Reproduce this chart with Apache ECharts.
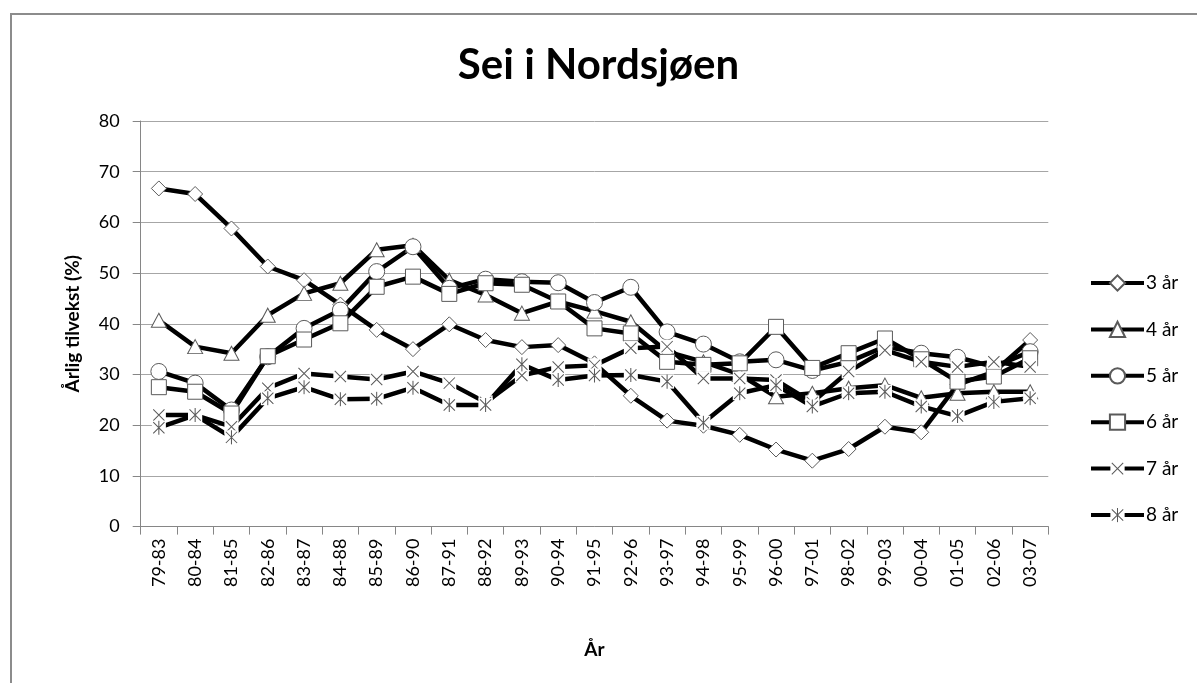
<!DOCTYPE html>
<html>
<head>
<meta charset="utf-8">
<script src="https://cdn.jsdelivr.net/npm/echarts@6/dist/echarts.min.js"></script>
<style>
html,body{margin:0;padding:0;background:#fff;overflow:hidden;}
#frame{position:absolute;left:10px;top:13px;width:1300px;height:800px;border:2px solid #8c8c8c;box-sizing:border-box;}
#chart{position:absolute;left:0;top:0;width:1197px;height:683px;}
</style>
</head>
<body>
<div id="frame"></div>
<div id="chart"></div>
<script>
var categories = ['79-83','80-84','81-85','82-86','83-87','84-88','85-89','86-90','87-91','88-92','89-93','90-94','91-95','92-96','93-97','94-98','95-99','96-00','97-01','98-02','99-03','00-04','01-05','02-06','03-07'];
var seriesNames = ['3 år','4 år','5 år','6 år','7 år','8 år'];
var s3 = [66.7, 65.6, 58.8, 51.3, 48.6, 43.8, 38.8, 35.0, 39.9, 36.8, 35.4, 35.8, 32.2, 25.8, 20.9, 19.9, 18.1, 15.2, 13.0, 15.3, 19.7, 18.6, 28.0, 30.5, 36.8];
var s4 = [40.7, 35.5, 34.2, 41.7, 46.0, 48.0, 54.6, 55.5, 48.6, 45.7, 42.1, 44.4, 42.5, 40.4, 34.5, 32.5, 30.0, 25.6, 26.3, 27.3, 27.9, 25.4, 26.3, 26.6, 26.6];
var s5 = [30.6, 28.3, 23.0, 33.5, 39.1, 42.7, 50.3, 55.2, 47.0, 48.8, 48.3, 48.1, 44.2, 47.2, 38.4, 36.0, 32.5, 32.9, 30.8, 32.5, 35.5, 34.2, 33.4, 31.5, 34.5];
var s6 = [27.5, 26.6, 22.3, 33.6, 36.9, 40.1, 47.3, 49.3, 45.9, 48.0, 47.7, 44.4, 39.1, 38.1, 32.5, 31.9, 32.2, 39.4, 31.3, 34.2, 37.1, 33.0, 28.6, 29.6, 33.2];
var s7 = [22.0, 22.0, 19.7, 27.3, 30.2, 29.6, 29.0, 30.6, 28.3, 24.5, 29.8, 31.5, 31.8, 35.2, 35.5, 29.2, 29.2, 28.9, 24.5, 30.6, 34.8, 32.5, 31.5, 32.5, 31.5];
var s8 = [19.5, 22.0, 17.6, 25.3, 27.5, 25.1, 25.2, 27.4, 24.0, 24.0, 32.0, 28.9, 29.8, 29.9, 28.6, 20.5, 26.3, 27.9, 23.7, 26.3, 26.6, 23.7, 21.8, 24.6, 25.3];
var yTicks = [0, 10, 20, 30, 40, 50, 60, 70, 80];

var markerStroke = '#5a5a5a';
function svgSym(inner){
  var svg = "<svg xmlns='http://www.w3.org/2000/svg' width='32' height='32' viewBox='0 0 16 16'><rect x='0.5' y='0.5' width='15' height='15' fill='#ffffff'/>" + inner + "</svg>";
  return 'image://data:image/svg+xml;charset=utf-8,' + encodeURIComponent(svg);
}
var xSym = svgSym("<path d='M2 2L14 14M14 2L2 14' stroke='" + markerStroke + "' stroke-width='1.1' fill='none'/>");
var aSym = svgSym("<path d='M2 2L14 14M14 2L2 14M8 0.5L8 15.5' stroke='" + markerStroke + "' stroke-width='1.1' fill='none'/>");

var allData = [s3, s4, s5, s6, s7, s8];
var symbols = ['diamond','triangle','circle','rect', xSym, aSym];
var sizes = [[15,15],[15,14],[16,16],[15,15],[15,15],[15,15]];

var series = allData.map(function(d, i){
  return {
    name: seriesNames[i],
    type: 'line',
    data: d,
    symbol: symbols[i],
    symbolSize: sizes[i],
    showAllSymbol: true,
    lineStyle: {color: '#000', width: 4.5},
    itemStyle: {color: '#fff', borderColor: markerStroke, borderWidth: 1},
    emphasis: {disabled: true},
    animation: false
  };
});

var chart = echarts.init(document.getElementById('chart'), null, {renderer: 'canvas'});
chart.setOption({
  backgroundColor: 'transparent',
  animation: false,
  title: {
    text: 'Sei i Nordsjøen',
    left: 'center',
    top: 39,
    textStyle: {fontFamily: 'Lato', fontWeight: 'bold', fontSize: 42, color: '#000'}
  },
  grid: {left: 140.7, right: 148.7, top: 121, bottom: 156.4, containLabel: false},
  legend: {
    orient: 'vertical',
    left: 1084,
    top: 268.5,
    itemWidth: 53,
    itemHeight: 19,
    itemGap: 27.4,
    lineStyle: {color: '#000', width: 4},
    textStyle: {fontFamily: 'Lato', fontSize: 19, color: '#000', padding: [0,0,0,-3]},
    data: seriesNames
  },
  xAxis: {
    type: 'category',
    data: categories,
    boundaryGap: true,
    name: 'År',
    nameLocation: 'middle',
    nameGap: 114,
    nameTextStyle: {fontFamily: 'Lato', fontWeight: 'bold', fontSize: 19, color: '#000'},
    axisLine: {lineStyle: {color: '#868686', width: 1}},
    axisTick: {show: true, length: 8, alignWithLabel: false, lineStyle: {color: '#868686'}},
    axisLabel: {rotate: 90, fontFamily: 'Lato', fontSize: 18, color: '#000', margin: 12, interval: 0},
    splitLine: {show: false}
  },
  yAxis: {
    type: 'value',
    min: yTicks[0],
    max: yTicks[yTicks.length - 1],
    interval: 10,
    name: 'Årlig tilvekst (%)',
    nameLocation: 'middle',
    nameRotate: 90,
    nameGap: 58,
    nameTextStyle: {fontFamily: 'Lato', fontWeight: 'bold', fontSize: 19, color: '#000'},
    axisLine: {show: true, lineStyle: {color: '#868686', width: 1}},
    axisTick: {show: true, length: 8, lineStyle: {color: '#868686'}},
    axisLabel: {fontFamily: 'Lato', fontSize: 18, color: '#000', margin: 21},
    splitLine: {show: true, lineStyle: {color: '#a6a6a6', width: 1}}
  },
  series: series
});
</script>
</body>
</html>
